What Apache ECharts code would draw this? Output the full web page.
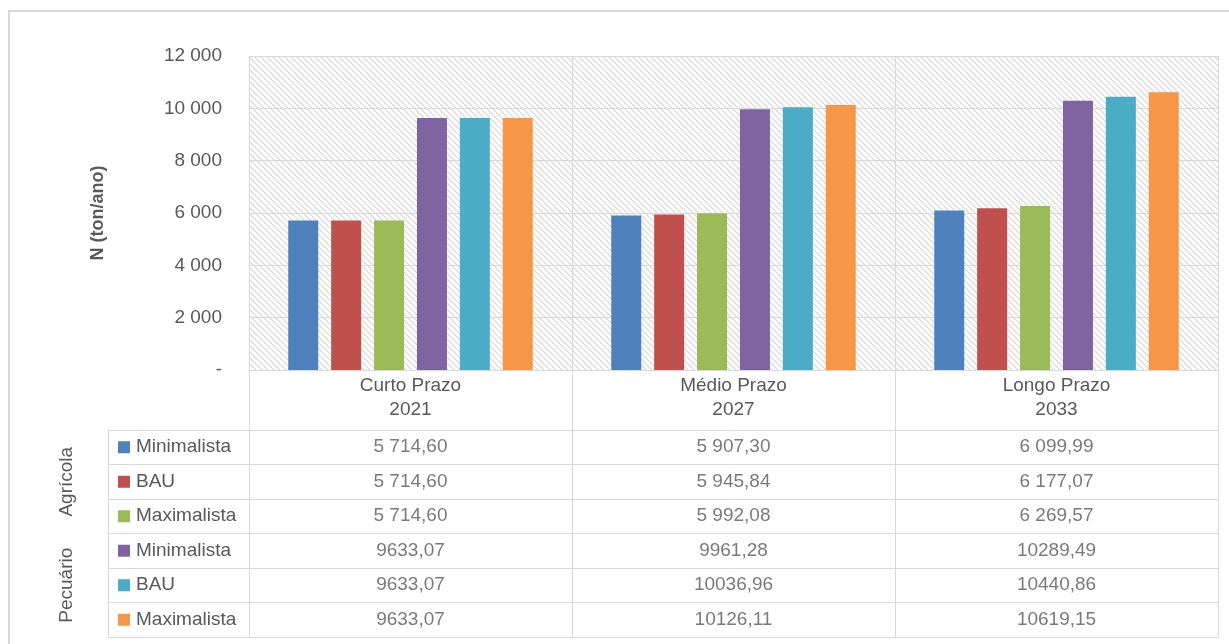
<!DOCTYPE html>
<html>
<head>
<meta charset="utf-8">
<script src="https://cdn.jsdelivr.net/npm/echarts@6/dist/echarts.min.js"></script>
<style>
  html, body { margin: 0; padding: 0; background: #fff; }
  #chart { width: 1229px; height: 644px; }
</style>
</head>
<body>
<div id="chart"></div>
<script>
// categorias
const categories = ['Curto Prazo\n2021', 'Médio Prazo\n2027', 'Longo Prazo\n2033'];
// linhas da tabela
const rowNames = ['Minimalista', 'BAU', 'Maximalista', 'Minimalista', 'BAU', 'Maximalista'];
const groupNames = ['Agrícola', 'Pecuário'];
// valores (ton/ano)
const agrMinimalista = [5714.60, 5907.30, 6099.99];
const agrBau = [5714.60, 5945.84, 6177.07];
const agrMaximalista = [5714.60, 5992.08, 6269.57];
const pecMinimalista = [9633.07, 9961.28, 10289.49];
const pecBau = [9633.07, 10036.96, 10440.86];
const pecMaximalista = [9633.07, 10126.11, 10619.15];
const yTicks = { min: 0, max: 12000, interval: 2000 };

const colors = ['#4f81bd', '#c0504d', '#9bbb59', '#8064a2', '#4bacc6', '#f79646'];
const seriesValues = [agrMinimalista, agrBau, agrMaximalista, pecMinimalista, pecBau, pecMaximalista];
const textColor = '#595959';
const lineColor = '#d9d9d9';
const fontFamily = 'Liberation Sans';
const fs = 19;

// padrão tracejado do fundo
const hatch = document.createElement('canvas');
hatch.width = 6;
hatch.height = 6;
const hctx = hatch.getContext('2d');
hctx.fillStyle = '#ffffff';
hctx.fillRect(0, 0, 6, 6);
hctx.strokeStyle = '#d6d6d6';
hctx.lineWidth = 1.2;
hctx.beginPath();
hctx.moveTo(-1, -1); hctx.lineTo(7, 7);
hctx.moveTo(-4, 2); hctx.lineTo(4, 10);
hctx.moveTo(2, -4); hctx.lineTo(10, 4);
hctx.stroke();

const spaced = v => {
    const parts = v.toFixed(2).split('.');
    return parts[0].replace(/\B(?=(\d{3})+(?!\d))/g, ' ') + ',' + parts[1];
};
const plain = v => v.toFixed(2).replace('.', ',');

// dados da tabela
const tableData = [];
seriesValues.forEach((vals, r) => {
    vals.forEach((v, c) => {
        tableData.push([c, r, r < 3 ? spaced(v) : plain(v)]);
    });
});

const rich = { t: { fontSize: fs, color: textColor, fontFamily: fontFamily, padding: [0, 0, 0, 6] } };
colors.forEach((c, i) => {
    rich['c' + i] = { width: 12, height: 12, backgroundColor: c };
});

const chart = echarts.init(document.getElementById('chart'));
const option = {
    animation: false,
    textStyle: { fontFamily: fontFamily, color: textColor },
    graphic: [{
        type: 'rect',
        shape: { x: 9, y: 11, width: 1260, height: 680 },
        style: { fill: 'none', stroke: lineColor, lineWidth: 2 },
        silent: true
    }],
    grid: [
        {
            left: 249, top: 56, width: 969, height: 314,
            show: true, borderWidth: 0,
            backgroundColor: { image: hatch, repeat: 'repeat' }
        },
        { left: 249, top: 430, width: 969, height: 207 }
    ],
    xAxis: [
        {
            type: 'category', gridIndex: 0, data: categories,
            axisLine: { show: true, lineStyle: { color: lineColor } },
            axisTick: { show: true, interval: 0, length: 60, lineStyle: { color: lineColor } },
            splitLine: { show: true, interval: 0, lineStyle: { color: lineColor } },
            axisLabel: { interval: 0, margin: 4, fontSize: fs, lineHeight: 24, color: textColor }
        },
        {
            type: 'category', gridIndex: 1, data: categories,
            axisLine: { show: true, lineStyle: { color: lineColor } },
            axisTick: { show: false },
            splitLine: { show: true, interval: 0, lineStyle: { color: lineColor } },
            axisLabel: { show: false }
        }
    ],
    yAxis: [
        {
            type: 'value', gridIndex: 0,
            min: yTicks.min, max: yTicks.max, interval: yTicks.interval,
            name: 'N (ton/ano)', nameLocation: 'middle', nameGap: 142,
            nameTextStyle: { fontSize: 18, fontWeight: 'bold', color: textColor },
            axisLine: { show: false },
            axisTick: { show: false },
            splitLine: { show: true, lineStyle: { color: lineColor } },
            axisLabel: {
                margin: 27, fontSize: fs, color: textColor,
                formatter: v => v === 0 ? '-' : String(v).replace(/\B(?=(\d{3})+(?!\d))/g, ' ')
            }
        },
        {
            type: 'category', gridIndex: 1, data: rowNames, inverse: true,
            axisLine: { show: true, lineStyle: { color: lineColor } },
            axisTick: { show: true, interval: 0, length: 141, lineStyle: { color: lineColor } },
            splitLine: { show: true, interval: 0, lineStyle: { color: lineColor } },
            axisLabel: {
                interval: 0, align: 'left', margin: 131,
                formatter: (v, i) => '{c' + i + '|}{t|' + v + '}',
                rich: rich
            }
        },
        {
            type: 'category', gridIndex: 1, data: groupNames, inverse: true,
            position: 'left', offset: 141,
            axisLine: { show: true, lineStyle: { color: lineColor } },
            axisTick: { show: false },
            splitLine: { show: false },
            axisLabel: { interval: 0, rotate: 90, margin: 32, fontSize: fs, color: textColor }
        }
    ],
    series: seriesValues.map((vals, i) => ({
        type: 'bar', name: rowNames[i], xAxisIndex: 0, yAxisIndex: 0,
        data: vals, barWidth: 30, barGap: '43%',
        itemStyle: { color: colors[i] }
    })).concat([{
        type: 'scatter', xAxisIndex: 1, yAxisIndex: 1,
        data: tableData, symbolSize: 0,
        itemStyle: { color: 'transparent' },
        label: {
            show: true, position: 'inside', fontSize: fs, color: textColor,
            formatter: p => p.data[2]
        }
    }])
};
chart.setOption(option);
</script>
</body>
</html>
